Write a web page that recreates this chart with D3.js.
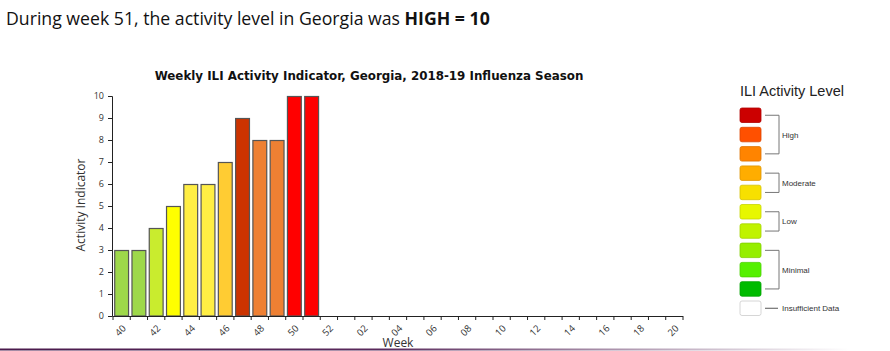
<!DOCTYPE html>
<html>
<head>
<meta charset="utf-8">
<script src="https://cdn.jsdelivr.net/npm/d3@7"></script>
<style>
  html, body { margin: 0; padding: 0; background: #fff; }
  svg { display: block; }
</style>
</head>
<body>
<div id="chart"></div>
<script>
// weeks of the 2018-19 season, 40..52 then 01..20
const weeks = ['40','41','42','43','44','45','46','47','48','49','50','51','52',
  '01','02','03','04','05','06','07','08','09','10','11','12','13','14','15','16','17','18','19','20'];
const tickLabels = ['40','42','44','46','48','50','52','02','04','06','08','10','12','14','16','18','20'];
// reported weeks only
const reportedWeeks = ['40','41','42','43','44','45','46','47','48','49','50','51'];
const activity = [3, 3, 4, 5, 6, 6, 7, 9, 8, 8, 10, 10];
const activityLevels = [0,1,2,3,4,5,6,7,8,9,10];

const legendGroups = ['High', 'Moderate', 'Low', 'Minimal'];
const legendGroupSizes = [3, 2, 2, 3];

function render() {
  const W = 890, H = 351;
  const svg = d3.select('#chart').append('svg').attr('width', W).attr('height', H);

  const barColor = d3.scaleOrdinal()
    .domain(activityLevels)
    .range(['#00b300', '#55ee00', '#99dd44', '#9ed84a', '#c9ec2e', '#ffff00',
            '#ffee44', '#ffcc33', '#ee8033', '#cc3300', '#ff0000']);
  const legendColors = ['#cc0000', '#ff5000', '#ff8400', '#ffad00', '#f7e000',
    '#e7f700', '#c0f300', '#96ee00', '#55f000', '#00bb00'];

  // header sentence
  const header = svg.append('text')
    .attr('x', 6).attr('y', 25)
    .style('font-family', 'Open Sans, sans-serif')
    .style('font-size', '16px')
    .style('fill', '#111');
  header.append('tspan').text('During week 51, the activity level in Georgia was ');
  header.append('tspan').style('font-weight', 'bold').text('HIGH = 10');
  const hw = header.node().getComputedTextLength();
  header.style('font-size', (16 * 484 / hw) + 'px');

  const x = d3.scaleBand().domain(weeks).range([113, 683]).paddingInner(0.14).paddingOuter(0.07);
  const y = d3.scaleLinear().domain([0, 10]).range([316, 96]);

  // title
  const title = svg.append('text')
    .attr('x', 369).attr('y', 80)
    .attr('text-anchor', 'middle')
    .style('font-family', 'DejaVu Sans, sans-serif')
    .style('font-weight', 'bold')
    .style('font-size', '12px')
    .style('fill', '#111')
    .text('Weekly ILI Activity Indicator, Georgia, 2018-19 Influenza Season');
  const tw = title.node().getComputedTextLength();
  title.style('font-size', (12 * 429 / tw) + 'px');

  // y axis
  const yAxis = svg.append('g')
    .attr('transform', 'translate(112,0)')
    .call(d3.axisLeft(y).ticks(10).tickSize(4).tickPadding(4));
  yAxis.select('.domain').attr('stroke', '#222');
  yAxis.selectAll('.tick line').attr('stroke', '#222');
  yAxis.selectAll('.tick text')
    .style('font-family', 'Open Sans, sans-serif')
    .style('font-size', '9px')
    .style('fill', '#333');

  svg.append('text')
    .attr('transform', 'translate(85,205) rotate(-90)')
    .attr('text-anchor', 'middle')
    .style('font-family', 'Open Sans, sans-serif')
    .style('font-size', '12px')
    .style('fill', '#333')
    .text('Activity Indicator');

  // bars
  svg.append('g').selectAll('rect')
    .data(reportedWeeks.map((w, i) => ({ week: w, value: activity[i] })))
    .join('rect')
    .attr('x', d => x(d.week) + 0.5)
    .attr('y', d => y(d.value) + 0.5)
    .attr('width', x.bandwidth() - 1)
    .attr('height', d => y(0) - y(d.value) - 0.5)
    .attr('fill', d => barColor(d.value))
    .attr('stroke', '#555')
    .attr('stroke-width', 1.2);

  // x axis (ticks on band edges)
  const step = x.step();
  const x0 = x.range()[0];
  const xg = svg.append('g');
  xg.append('line')
    .attr('x1', x0).attr('x2', x.range()[1])
    .attr('y1', y(0) + 0.5).attr('y2', y(0) + 0.5)
    .attr('stroke', '#222');
  xg.selectAll('line.tk')
    .data(d3.range(weeks.length + 1))
    .join('line')
    .attr('class', 'tk')
    .attr('x1', i => x0 + i * step).attr('x2', i => x0 + i * step)
    .attr('y1', y(0)).attr('y2', y(0) + 4)
    .attr('stroke', '#222');
  xg.selectAll('text')
    .data(tickLabels)
    .join('text')
    .attr('transform', d => `translate(${x(d) + x.bandwidth() / 2 + 5},${y(0) + 13}) rotate(-45)`)
    .attr('text-anchor', 'end')
    .style('font-family', 'Open Sans, sans-serif')
    .style('font-size', '9.5px')
    .style('fill', '#333')
    .text(d => d);

  svg.append('text')
    .attr('x', 398).attr('y', 347)
    .attr('text-anchor', 'middle')
    .style('font-family', 'Open Sans, sans-serif')
    .style('font-size', '12px')
    .style('fill', '#333')
    .text('Week');

  // purple rule at the bottom
  const grad = svg.append('defs').append('linearGradient')
    .attr('id', 'rule').attr('x1', '0%').attr('x2', '100%');
  grad.append('stop').attr('offset', '0%').attr('stop-color', '#4a1a4c');
  grad.append('stop').attr('offset', '45%').attr('stop-color', '#5a2a5c');
  grad.append('stop').attr('offset', '100%').attr('stop-color', '#ffffff');
  svg.append('rect')
    .attr('x', 0).attr('y', 348.5).attr('width', 850).attr('height', 2)
    .attr('fill', 'url(#rule)');

  // legend
  const lg = svg.append('g');
  lg.append('text')
    .attr('x', 740).attr('y', 96)
    .style('font-family', 'Liberation Sans, Arial, sans-serif')
    .style('font-size', '14.5px')
    .style('fill', '#222')
    .text('ILI Activity Level');

  const boxTop = 108, boxStep = 19.3, boxW = 21, boxH = 14.5;
  const boxY = i => boxTop + i * boxStep;
  lg.selectAll('rect')
    .data(legendColors.concat(['#ffffff']))
    .join('rect')
    .attr('x', 740).attr('y', (d, i) => boxY(i))
    .attr('width', boxW).attr('height', boxH)
    .attr('rx', 2)
    .attr('fill', d => d)
    .attr('stroke', (d, i) => i === legendColors.length ? '#ccc' : d3.color(d).darker(0.4))
    .attr('stroke-width', 0.8);

  let start = 0;
  legendGroups.forEach((name, gi) => {
    const n = legendGroupSizes[gi];
    const yA = boxY(start) + boxH / 2;
    const yB = boxY(start + n - 1) + boxH / 2;
    lg.append('path')
      .attr('d', `M765,${yA}H779V${yB}H765`)
      .attr('fill', 'none')
      .attr('stroke', '#777')
      .attr('stroke-width', 1);
    lg.append('text')
      .attr('x', 782).attr('y', (yA + yB) / 2 + 3)
      .style('font-family', 'Liberation Sans, Arial, sans-serif')
      .style('font-size', '8px')
      .style('fill', '#333')
      .text(name);
    start += n;
  });
  const yIns = boxY(legendColors.length) + boxH / 2;
  lg.append('line')
    .attr('x1', 765).attr('x2', 778).attr('y1', yIns).attr('y2', yIns)
    .attr('stroke', '#555');
  lg.append('text')
    .attr('x', 782).attr('y', yIns + 3)
    .style('font-family', 'Liberation Sans, Arial, sans-serif')
    .style('font-size', '8px')
    .style('fill', '#333')
    .text('Insufficient Data');
}

render();
</script>
</body>
</html>
